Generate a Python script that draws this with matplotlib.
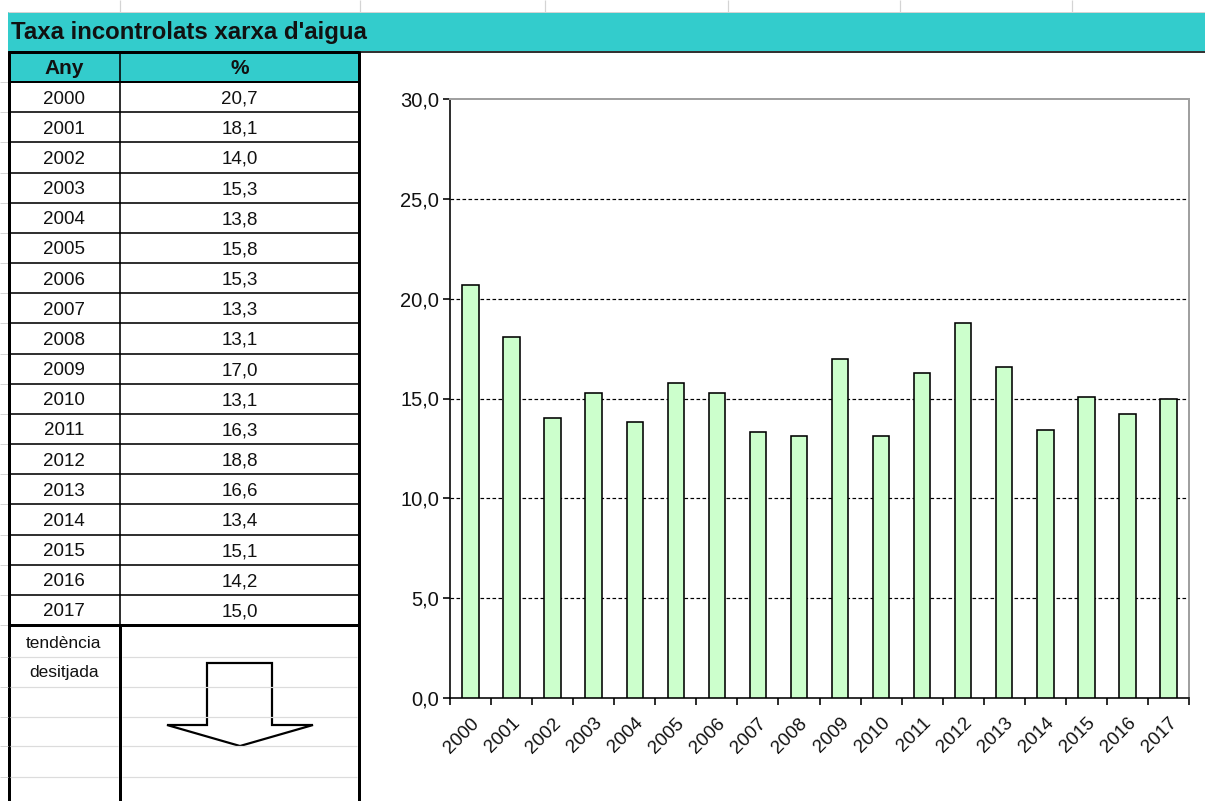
import numpy as np
import matplotlib
matplotlib.use("Agg")
import matplotlib.pyplot as plt
from matplotlib.patches import Rectangle, Polygon
from matplotlib.ticker import FixedLocator, FuncFormatter

plt.rcParams['font.family'] = ['Liberation Sans', 'DejaVu Sans']

# dades
anys = [2000, 2001, 2002, 2003, 2004, 2005, 2006, 2007, 2008,
        2009, 2010, 2011, 2012, 2013, 2014, 2015, 2016, 2017]
taxa = [20.7, 18.1, 14.0, 15.3, 13.8, 15.8, 15.3, 13.3, 13.1,
        17.0, 13.1, 16.3, 18.8, 16.6, 13.4, 15.1, 14.2, 15.0]
titol = "Taxa incontrolats xarxa d'aigua"
cap_any = "Any"
cap_pct = "%"
tendencia = ["tendència", "desitjada"]

W, H = 1205, 801
TEAL = "#33CCCC"
GREEN = "#CCFFCC"
PX = 0.72  # 1 px in points at 100 dpi

fig = plt.figure(figsize=(W / 100, H / 100), dpi=100)
fig.patch.set_facecolor("white")

# capa de fons en coordenades de pixel (full de càlcul)
bg = fig.add_axes([0, 0, 1, 1])
bg.set_xlim(0, W)
bg.set_ylim(H, 0)
bg.axis("off")

def hline(y, x0, x1, lw, c="black"):
    bg.plot([x0, x1], [y, y], color=c, lw=lw * PX, solid_capstyle="butt")

def vline(x, y0, y1, lw, c="black"):
    bg.plot([x, x], [y0, y1], color=c, lw=lw * PX, solid_capstyle="butt")

# línies grises de la graella del full
for x in [120, 360, 545, 728, 900, 1072]:
    vline(x, 0, 12, 1.2, "#d4d4d4")
hline(12, 8, W, 1.0, "#d4d4d4")

# barra de títol
bg.add_patch(Rectangle((8, 12), W - 8, 39, facecolor=TEAL, edgecolor="none"))
hline(51.5, 8, W, 2, "#333333")
bg.text(11, 32, titol, fontsize=17.3, fontweight="bold", va="center", ha="left",
        color="#111111")

# taula
x0, xm, x1 = 8, 120, 359
y_head0, y_head1 = 51, 82
row_h = (625 - 82) / len(anys)
bg.add_patch(Rectangle((x0, y_head0), x1 - x0, y_head1 - y_head0,
                       facecolor=TEAL, edgecolor="none"))
bg.text((x0 + xm) / 2, 68, cap_any, fontsize=15, fontweight="bold",
        ha="center", va="center", color="#111111")
bg.text((xm + x1) / 2, 68, cap_pct, fontsize=15, fontweight="bold",
        ha="center", va="center", color="#111111")

y_end = y_head1 + row_h * len(anys)
for i, (a, v) in enumerate(zip(anys, taxa)):
    yc = y_head1 + row_h * (i + 0.5) + 2
    bg.text((x0 + xm) / 2, yc, str(a), fontsize=13.5, ha="center", va="center",
            color="#111111")
    bg.text((xm + x1) / 2, yc, f"{v:.1f}".replace(".", ","), fontsize=13.5,
            ha="center", va="center", color="#111111")
    yl = y_head1 + row_h * (i + 1)
    hline(yl, x0, x1, 1.6)
    hline(yl, 0, x0, 1.0, "#d4d4d4")
hline(y_head1, 0, x0, 1.0, "#d4d4d4")

hline(y_head0 + 1, x0, x1, 3)
hline(y_head1, x0, x1, 2)
hline(y_end, x0, x1, 3)
vline(x0 + 1, y_head0, H, 3)
vline(x1, y_head0, H, 3)
vline(xm, y_head0, y_end, 1.6)
vline(xm, y_end, H, 3)

# files buides sota la taula
for y in [657, 687, 717, 746, 777]:
    hline(y, 0, x0, 1.0, "#d4d4d4")
    hline(y, x0 + 2, xm - 2, 1.2, "#dcdcdc")
    hline(y, xm + 2, x1 - 2, 1.2, "#dcdcdc")

bg.text((x0 + xm) / 2, 643, tendencia[0], fontsize=12.5, ha="center", va="center",
        color="#111111")
bg.text((x0 + xm) / 2, 673, tendencia[1], fontsize=12.5, ha="center", va="center",
        color="#111111")

# fletxa de tendència desitjada
fletxa = [(207, 663), (272, 663), (272, 725), (313, 725),
          (240, 746), (167, 725), (207, 725)]
bg.add_patch(Polygon(fletxa, closed=True, facecolor="white",
                     edgecolor="black", lw=2.2 * PX, joinstyle="miter"))

# gràfic de barres
ax_l, ax_r, ax_t, ax_b = 450, 1189, 99, 698
ax = fig.add_axes([ax_l / W, (H - ax_b) / H, (ax_r - ax_l) / W, (ax_b - ax_t) / H])
ax.set_facecolor("none")
pos = np.arange(len(anys))
ax.bar(pos, taxa, width=0.4, color=GREEN, edgecolor="black", lw=1.6 * PX, zorder=3)

ax.set_xlim(-0.5, len(anys) - 0.5)
ax.set_ylim(0, 30)
ax.set_yticks(np.arange(0, 31, 5))
ax.yaxis.set_major_formatter(FuncFormatter(lambda v, p: f"{v:.1f}".replace(".", ",")))
for y in range(5, 30, 5):
    ax.axhline(y, color="black", lw=1.2 * PX, ls=(0, (3, 2)), zorder=1)

ax.xaxis.set_major_locator(FixedLocator(np.arange(-0.5, len(anys), 1.0)))
ax.xaxis.set_major_formatter(FuncFormatter(lambda v, p: ""))
ax.xaxis.set_minor_locator(FixedLocator(pos))
ax.set_xticklabels([str(a) for a in anys], minor=True, rotation=45,
                   ha="right", rotation_mode="anchor", fontsize=13.5, color="#111111")
ax.tick_params(axis="x", which="minor", length=0, pad=12)
ax.tick_params(axis="x", which="major", length=5, width=1.6 * PX, direction="out")
ax.tick_params(axis="y", length=5, width=1.6 * PX, direction="out", labelsize=14.5,
               pad=3, labelcolor="#111111")

for s in ["left", "bottom"]:
    ax.spines[s].set_color("black")
    ax.spines[s].set_linewidth(1.6 * PX)
for s in ["top", "right"]:
    ax.spines[s].set_color("#a0a0a0")
    ax.spines[s].set_linewidth(2 * PX)

fig.savefig("out.png", dpi=100)
